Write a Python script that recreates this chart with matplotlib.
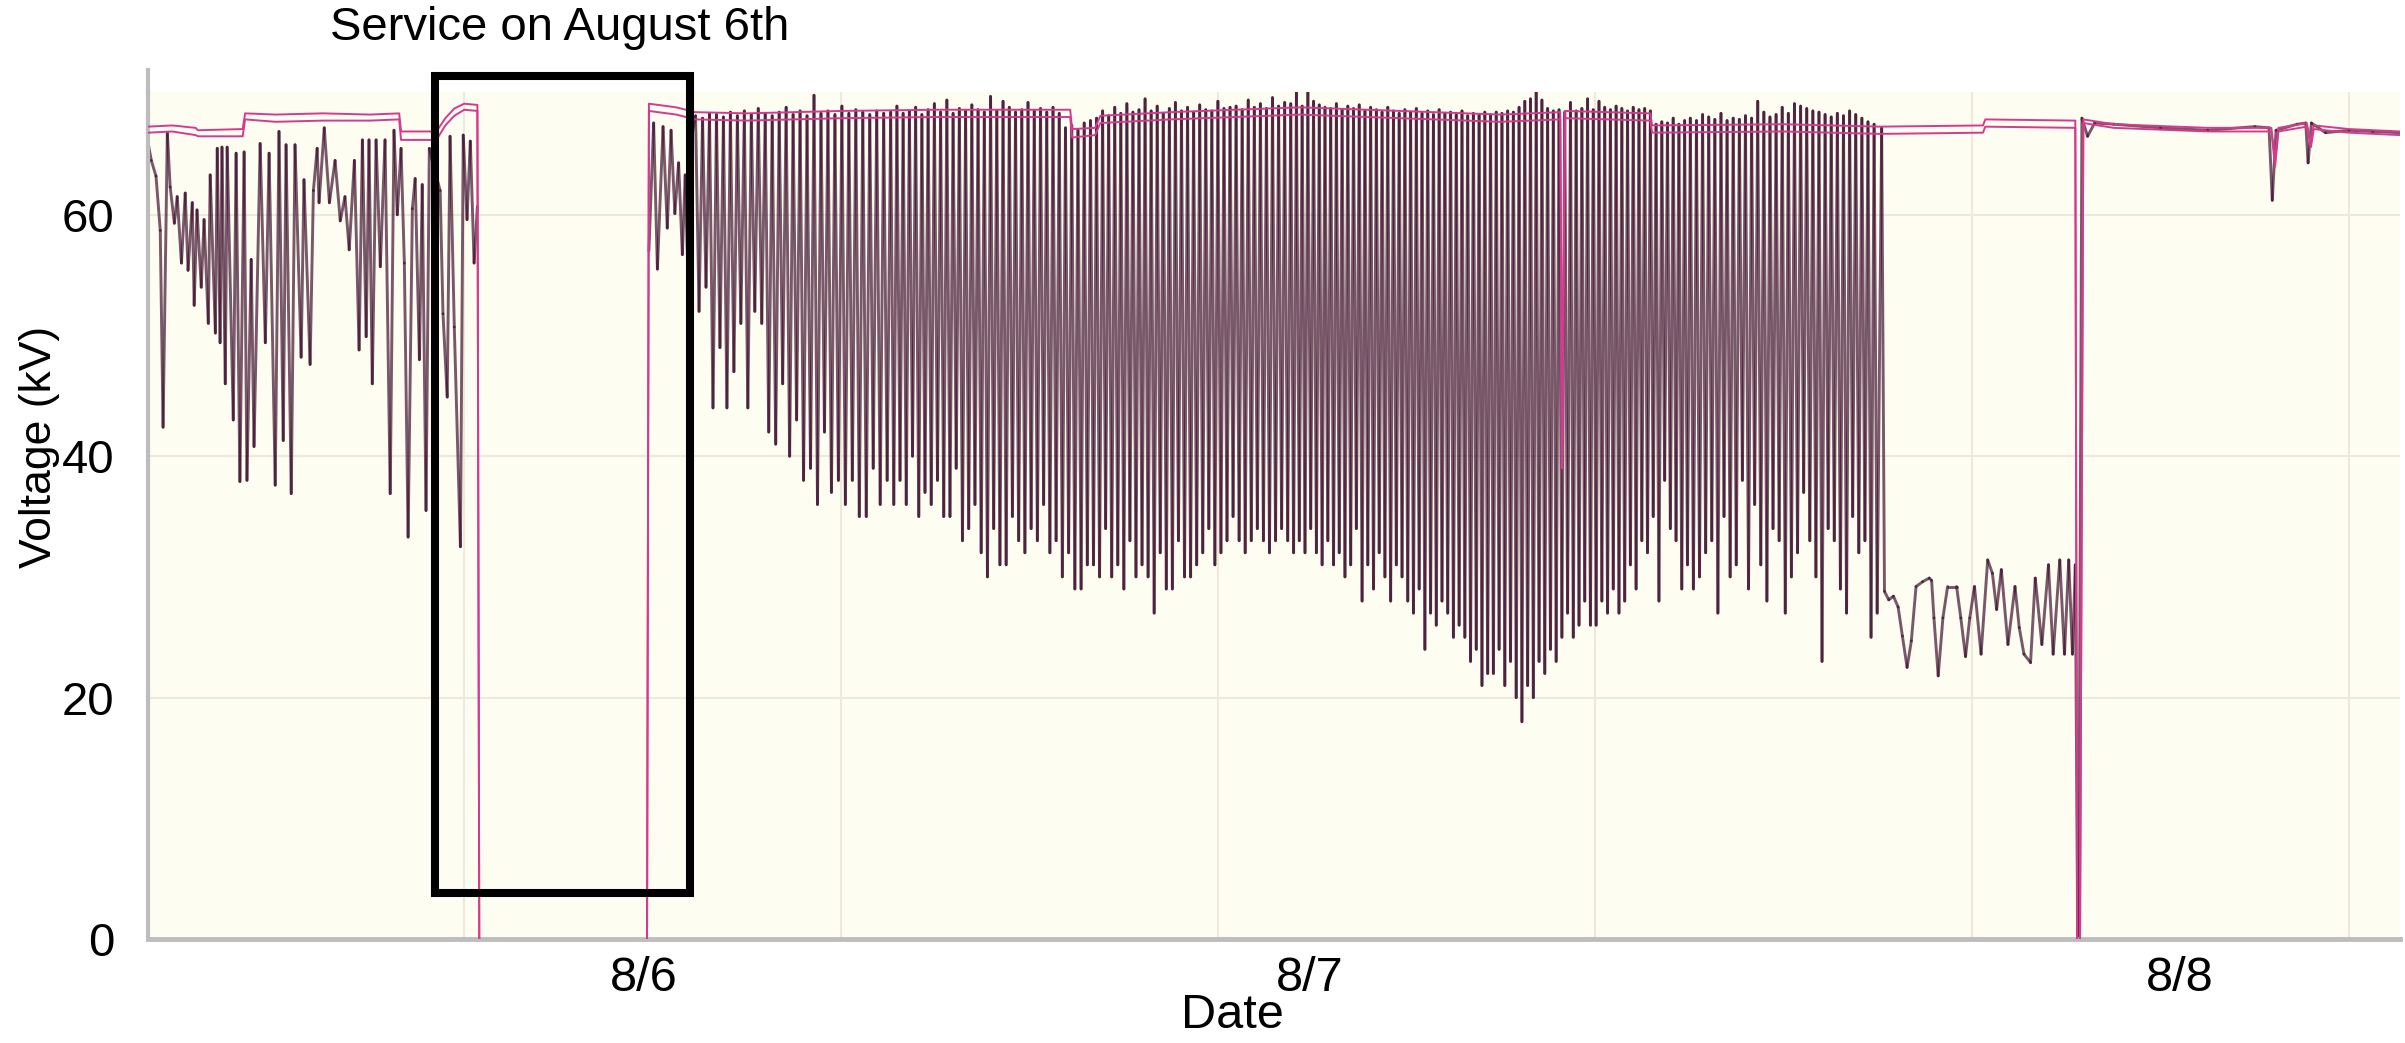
import numpy as np
import matplotlib.pyplot as plt
from matplotlib.collections import LineCollection
from matplotlib.patches import Rectangle

plt.rcParams["font.family"] = ["Liberation Sans", "DejaVu Sans"]

# time axis in hours since 8/5 00:00
X_MIN, X_MAX = 9.29, 57.08
GRID_HOURS = [16, 24, 32, 40, 48, 56]
TICK_HOURS = [19.82, 33.95, 52.41]
TICK_LABELS = ["8/6", "8/7", "8/8"]

# first stretch before the service (traced point by point)
left_t = [9.29, 9.36, 9.46, 9.55, 9.61, 9.70, 9.76, 9.85, 9.91, 10.00, 10.08, 10.14, 10.23,
          10.27, 10.33, 10.42, 10.48, 10.57, 10.61, 10.72, 10.76, 10.82, 10.86, 10.93, 10.97,
          11.10, 11.16, 11.24, 11.33, 11.39, 11.48, 11.54, 11.67, 11.78, 11.86, 11.99, 12.07,
          12.16, 12.22, 12.33, 12.41, 12.54, 12.60, 12.73, 12.80, 12.88, 12.92, 13.03, 13.14,
          13.26, 13.37, 13.47, 13.56, 13.67, 13.77, 13.84, 13.92, 13.98, 14.05, 14.13, 14.22,
          14.32, 14.43, 14.51, 14.58, 14.66, 14.73, 14.81, 14.90, 14.96, 15.05, 15.11, 15.19,
          15.26, 15.32, 15.49, 15.55, 15.64, 15.70, 15.79, 15.92, 15.98, 16.06, 16.13, 16.21,
          16.28]
left_v = [66.0, 64.5, 63.2, 58.7, 42.4, 66.8, 62.3, 59.3, 61.5, 56.0, 61.8, 55.4, 61.0,
          52.5, 60.4, 54.0, 59.6, 51.0, 63.3, 50.2, 65.5, 49.4, 65.6, 46.0, 65.6,
          43.0, 65.1, 37.9, 65.2, 38.0, 56.3, 40.8, 65.9, 49.4, 65.1, 37.6, 66.9,
          41.3, 65.8, 36.9, 65.8, 48.2, 62.9, 47.6, 62.0, 65.5, 61.0, 67.2, 61.0,
          64.5, 59.5, 61.5, 57.1, 64.5, 48.8, 66.2, 49.9, 66.2, 46.0, 66.2, 55.7,
          66.2, 36.9, 67.0, 60.0, 65.5, 56.0, 33.3, 60.5, 63.0, 48.0, 62.5, 35.5,
          65.5, 64.5, 62.0, 51.8, 44.9, 66.5, 50.7, 32.5, 66.6, 59.6, 66.1, 56.0,
          60.7]

# just after the service
restart_t = [19.92, 20.02, 20.10, 20.22, 20.31, 20.39, 20.47, 20.55, 20.63, 20.69, 20.75, 20.83]
restart_v = [57.0, 67.6, 55.5, 67.3, 58.9, 67.0, 60.1, 64.3, 56.7, 63.3, 54.6, 66.5]

# heavy cycling: peak / trough of each swing, section by section
sec_A = (20.91, 25.05)
A_hi = [68.2, 68.0, 68.4, 68.3, 68.1, 68.5, 68.2, 68.6, 68.3, 68.8, 68.4, 68.2, 68.5, 68.9,
        68.3, 68.6, 68.2, 69.9, 68.4, 68.6, 68.3, 69.0, 68.4, 68.7, 68.5, 68.3, 68.6, 68.4]
A_lo = [52, 54, 44, 49, 44, 47, 51, 44, 52, 51, 42, 41, 46, 40,
        43, 38, 39, 36, 42, 37, 38, 36, 38, 35, 35, 39, 36, 38]

sec_B = (25.05, 29.29)
B_hi = [68.5, 69.0, 68.4, 68.6, 68.9, 68.3, 68.7, 69.2, 68.5, 69.5, 68.4, 68.8, 68.6, 69.1,
        68.7, 68.5, 69.8, 68.6, 69.4, 68.9, 68.5, 68.7, 69.3, 68.6, 68.8, 68.5, 68.9, 68.4,
        67.2, 67.4, 67.0, 67.6]
B_lo = [36, 38, 36, 40, 35, 37, 36, 38, 35, 35, 39, 33, 34, 36,
        32, 30, 34, 31, 31, 35, 33, 32, 34, 33, 36, 32, 33, 30,
        32, 29, 29, 31]

sec_C = (29.29, 33.54)
C_hi = [67.8, 68.0, 68.6, 68.2, 68.9, 68.4, 69.2, 68.5, 68.7, 69.6, 68.6, 69.0, 68.4, 68.8,
        69.3, 68.6, 68.9, 68.5, 69.1, 68.7, 68.6, 69.4, 68.8, 68.9, 69.0, 68.7, 69.5, 68.9,
        69.2, 68.8, 69.7, 69.0, 69.3]
C_lo = [31, 30, 34, 30, 31, 29, 33, 30, 31, 30, 27, 32, 29, 29,
        33, 30, 30, 31, 32, 34, 31, 32, 33, 35, 33, 32, 33, 34,
        33, 32, 33, 34, 33]

sec_D = (33.54, 37.78)
D_hi = [69.2, 70.2, 69.0, 70.3, 69.4, 69.1, 68.9, 68.8, 69.2, 68.7, 69.0, 68.8, 69.1, 68.6,
        68.9, 68.7, 68.5, 68.9, 68.6, 68.4, 68.7, 68.5, 68.8, 68.4, 68.6, 68.3, 68.7, 68.4,
        68.5, 68.3, 68.6, 68.2, 68.4, 68.3, 68.5]
D_lo = [32, 33, 32, 34, 32, 31, 33, 31, 32, 30, 31, 34, 28, 31,
        29, 32, 30, 28, 31, 30, 28, 27, 29, 24, 27, 26, 28, 27,
        25, 26, 25, 23, 24, 21, 22]

sec_E = (37.78, 42.02)
E_hi = [68.3, 68.5, 68.4, 68.6, 68.5, 68.9, 69.4, 69.6, 70.3, 69.5, 68.8, 68.6, 68.7, 68.5,
        69.3, 68.6, 68.8, 69.6, 68.7, 69.4, 68.9, 68.7, 69.0, 68.8, 68.6, 68.9, 68.7, 68.8,
        68.6, 67.5, 67.7, 67.6, 68.0, 67.5, 67.8]
E_lo = [22, 24, 21, 23, 20, 18, 21, 20, 23, 22, 24, 23, 25, 27,
        25, 26, 28, 26, 26, 28, 27, 29, 27, 28, 31, 29, 33, 32,
        35, 28, 38, 34, 33, 29, 31]

sec_F = (42.02, 46.05)
F_hi = [68.0, 67.8, 68.3, 68.1, 67.9, 68.4, 67.8, 68.0, 67.9, 68.2, 68.0, 69.4, 68.5, 68.1,
        68.3, 68.9, 68.4, 69.2, 69.0, 68.8, 68.6, 68.5, 68.3, 68.1, 68.4, 68.2, 68.6, 68.3,
        68.0, 67.7, 67.5]
F_lo = [29, 30, 32, 33, 27, 35, 30, 31, 38, 29, 36, 31, 28, 34,
        33, 27, 30, 32, 37, 33, 30, 23, 34, 33, 29, 27, 35, 32,
        33, 25, 27]

# slower swings before the outage on 8/7 evening, then recovery
low_t = [46.08, 46.14, 46.23, 46.33, 46.43, 46.52, 46.62, 46.71, 46.81, 46.95, 47.09, 47.14,
         47.19, 47.28, 47.38, 47.48, 47.67, 47.76, 47.86, 47.95, 48.05, 48.19, 48.33, 48.43,
         48.52, 48.62, 48.76, 48.91, 49.00, 49.10, 49.24, 49.34, 49.48, 49.62, 49.72, 49.86,
         49.96, 50.05, 50.13, 50.19, 50.24, 50.26]
low_v = [67.2, 28.8, 28.1, 28.4, 27.5, 25.1, 22.5, 24.7, 29.2, 29.6, 29.9, 29.7,
         26.6, 21.8, 26.6, 29.2, 29.2, 26.6, 23.4, 26.6, 29.2, 23.6, 31.4, 30.3,
         27.3, 30.6, 24.4, 29.2, 25.8, 23.6, 22.9, 29.9, 24.4, 31.0, 23.6, 31.4,
         23.6, 31.4, 23.6, 31.0, 0.0, 0.0]

tail_t = [50.33, 50.45, 50.60, 51.00, 52.00, 53.00, 54.00, 54.30, 54.37, 54.45, 54.90, 55.08,
          55.13, 55.20, 55.50, 56.00, 56.50, 57.08]
tail_v = [68.0, 66.5, 67.6, 67.5, 67.2, 67.0, 67.3, 67.2, 61.2, 67.0, 67.5, 67.6,
          64.3, 67.6, 66.8, 67.0, 66.9, 66.8]

# the two pink traces riding on top (nan = no reading while switched off)
pink_t = [9.29, 9.80, 10.30, 10.35, 11.30, 11.35, 12.00, 13.00, 14.00, 14.62, 14.66, 15.41,
          15.60, 15.79, 16.00, 16.28, 16.32, 16.33, 19.87, 19.88, 19.92, 20.50, 20.90, 22.00,
          24.00, 26.00, 28.86, 28.90, 29.39, 29.50, 31.00, 33.74, 35.86, 37.98, 39.26, 39.30,
          39.36, 41.17, 41.21, 44.00, 46.05, 48.23, 48.28, 50.19, 50.23, 50.26, 50.29, 50.36,
          51.00, 53.00, 54.35, 54.43, 54.50, 55.10, 55.19, 55.25, 56.00, 57.08]
pink_hi = [67.3, 67.4, 67.2, 67.0, 67.1, 68.4, 68.3, 68.4, 68.3, 68.4, 66.9, 66.9,
           68.0, 68.8, 69.2, 69.1, 0.0, np.nan, np.nan, 0.0, 69.2, 68.9, 68.5, 68.4,
           68.6, 68.7, 68.7, 67.1, 67.2, 68.2, 68.5, 68.9, 68.6, 68.3, 68.5, 39.0,
           68.6, 68.4, 67.4, 67.5, 67.3, 67.4, 67.9, 67.8, 0.0, np.nan, 0.0, 67.9,
           67.5, 67.2, 67.2, 64.5, 67.2, 67.6, 66.0, 67.4, 67.1, 66.9]
pink_lo = [66.8, 66.9, 66.6, 66.5, 66.5, 67.9, 67.7, 67.8, 67.8, 67.9, 66.2, 66.2,
           67.4, 68.2, 68.7, 68.6, 0.0, np.nan, np.nan, 0.0, 68.6, 68.3, 67.9, 67.8,
           68.0, 68.1, 68.1, 66.4, 66.6, 67.6, 67.9, 68.3, 68.0, 67.7, 67.9, 39.0,
           68.0, 67.8, 66.8, 66.9, 66.7, 66.8, 67.3, 67.2, 0.0, np.nan, 0.0, 67.6,
           67.2, 66.9, 66.9, 64.0, 66.9, 67.3, 65.6, 67.1, 66.8, 66.6]


def swings(span, hi, lo):
    # one peak then one trough per swing, evenly spread over the section
    t = np.linspace(span[0], span[1], 2 * len(lo), endpoint=False)
    v = np.empty(2 * len(lo))
    v[0::2] = hi
    v[1::2] = lo
    return t, v


def build_dark_series():
    parts = [(np.array(left_t), np.array(left_v)),
             (np.array([16.30]), np.array([np.nan])),
             (np.array(restart_t), np.array(restart_v))]
    for span, hi, lo in [(sec_A, A_hi, A_lo), (sec_B, B_hi, B_lo), (sec_C, C_hi, C_lo),
                         (sec_D, D_hi, D_lo), (sec_E, E_hi, E_lo), (sec_F, F_hi, F_lo)]:
        parts.append(swings(span, hi, lo))
    parts.append((np.array(low_t), np.array(low_v)))
    parts.append((np.array(tail_t), np.array(tail_v)))
    t = np.concatenate([p[0] for p in parts])
    v = np.concatenate([p[1] for p in parts])
    return t, v


fig = plt.figure(figsize=(24.05, 10.43), dpi=100)
ax = fig.add_axes([148 / 2405, 1 - 939 / 1043, 2252 / 2405, 847 / 1043])
ax.set_facecolor("#fdfdf1")

for h in GRID_HOURS:
    ax.axvline(h, color="#efe8dc", lw=1.5, zorder=0)
for v in [20, 40, 60]:
    ax.axhline(v, color="#efe8dc", lw=1.5, zorder=0)

t, v = build_dark_series()
pts = np.column_stack([t, v])
segs = [pts[i:i + 2] for i in range(len(pts) - 1)
        if not (np.isnan(pts[i, 1]) or np.isnan(pts[i + 1, 1]))]
lc = LineCollection(segs, colors="#3a0a2a", linewidths=2.1, alpha=0.68, zorder=2,
                    capstyle="round")
ax.add_collection(lc)

ax.plot(pink_t, pink_hi, color="#d43b8e", lw=1.4, zorder=3)
ax.plot(pink_t, pink_lo, color="#d43b8e", lw=1.4, zorder=3)

# box around the service window
ax.add_patch(Rectangle((15.38, 3.85), 20.80 - 15.38, 71.5 - 3.85, fill=False,
                       edgecolor="black", lw=5.8, zorder=5, clip_on=False))

ax.set_xlim(X_MIN, X_MAX)
ax.set_ylim(0, 70.17)
ax.set_yticks([0, 20, 40, 60])
ax.set_xticks(TICK_HOURS)
ax.set_xticklabels(TICK_LABELS)
ax.tick_params(axis="y", length=0, pad=24, labelsize=34)
ax.tick_params(axis="x", length=0, pad=12, labelsize=35)

for side in ["top", "right"]:
    ax.spines[side].set_visible(False)
ax.spines["left"].set_color("#bdbdbd")
ax.spines["left"].set_linewidth(3)
ax.spines["bottom"].set_color("#bdbdbd")
ax.spines["bottom"].set_linewidth(3.5)
ax.plot([0, 0], [1, 1.026], transform=ax.transAxes, color="#bdbdbd", lw=3, clip_on=False)

fig.text(40 / 2405, 1 - 447 / 1043, "Voltage (kV)", rotation=90, ha="center", va="center",
         fontsize=32)
fig.text(1232 / 2405, 1 - 1016 / 1043, "Date", ha="center", va="center", fontsize=35)
fig.text(330 / 2405, 1 - 28 / 1043, "Service on August 6th", ha="left", va="center",
         fontsize=34)

fig.savefig("out.png", dpi=100)
